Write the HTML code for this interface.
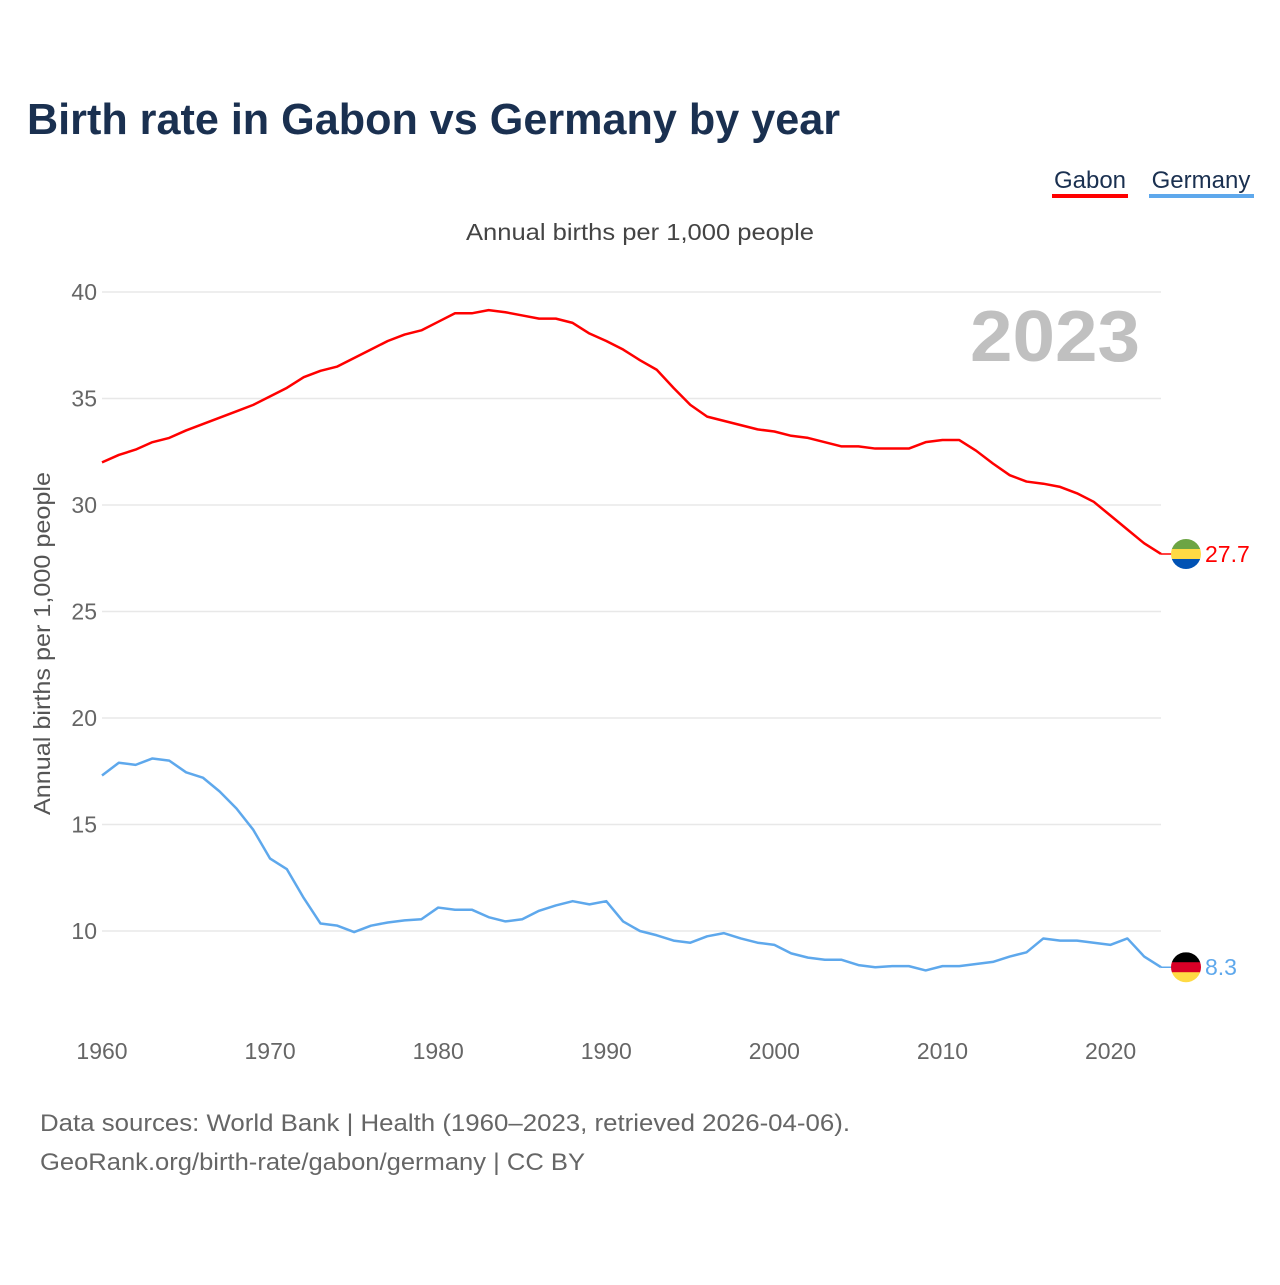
<!DOCTYPE html>
<html><head><meta charset="utf-8"><style>
body{margin:0;background:#fff;font-family:"Liberation Sans",sans-serif;}
</style></head><body>
<svg width="1280" height="1280" xmlns="http://www.w3.org/2000/svg" style="font-family:'Liberation Sans',sans-serif">
<text x="27" y="134" font-size="44" font-weight="bold" fill="#1a3050" textLength="813" lengthAdjust="spacingAndGlyphs">Birth rate in Gabon vs Germany by year</text>
<g><text x="1090" y="188" font-size="24" fill="#1a3050" text-anchor="middle">Gabon</text><rect x="1052" y="194" width="76" height="4" fill="#ff0000"/></g>
<g><text x="1201" y="188" font-size="24" fill="#1a3050" text-anchor="middle">Germany</text><rect x="1149" y="194" width="105" height="4" fill="#5ea8ec"/></g>
<text x="466" y="240" font-size="23" fill="#444" textLength="348" lengthAdjust="spacingAndGlyphs">Annual births per 1,000 people</text>
<text x="1140" y="361" font-size="72" font-weight="bold" fill="#c0c0c0" text-anchor="end" textLength="170" lengthAdjust="spacingAndGlyphs">2023</text>
<text transform="translate(50,815) rotate(-90)" font-size="23" fill="#555" textLength="343" lengthAdjust="spacingAndGlyphs">Annual births per 1,000 people</text>
<g id="grid"></g><g id="series"></g><g id="labels"></g>
<text x="40" y="1131" font-size="24" fill="#666" textLength="810" lengthAdjust="spacingAndGlyphs">Data sources: World Bank | Health (1960–2023, retrieved 2026-04-06).</text>
<text x="40" y="1170" font-size="24" fill="#666" textLength="545" lengthAdjust="spacingAndGlyphs">GeoRank.org/birth-rate/gabon/germany | CC BY</text>
</svg>
<script>
const years=[];for(let y=1960;y<=2023;y++)years.push(y);
const gabon=[32.0,32.35,32.6,32.95,33.15,33.5,33.8,34.1,34.4,34.7,35.1,35.5,36.0,36.3,36.5,36.9,37.3,37.7,38.0,38.2,38.6,39.0,39.0,39.15,39.05,38.9,38.75,38.75,38.55,38.05,37.7,37.3,36.8,36.35,35.5,34.7,34.15,33.95,33.75,33.55,33.45,33.25,33.15,32.95,32.75,32.75,32.65,32.65,32.65,32.95,33.05,33.05,32.55,31.95,31.4,31.1,31.0,30.85,30.55,30.15,29.5,28.85,28.2,27.7];
const germany=[17.3,17.9,17.8,18.1,18.0,17.45,17.2,16.55,15.75,14.75,13.4,12.9,11.55,10.35,10.25,9.95,10.25,10.4,10.5,10.55,11.1,11.0,11.0,10.65,10.45,10.55,10.95,11.2,11.4,11.25,11.4,10.45,10.0,9.8,9.55,9.45,9.75,9.9,9.65,9.45,9.35,8.95,8.75,8.65,8.65,8.4,8.3,8.35,8.35,8.15,8.35,8.35,8.45,8.55,8.8,9.0,9.65,9.55,9.55,9.45,9.35,9.65,8.8,8.3];
const yTicks=[10,15,20,25,30,35,40];
const xTicks=[1960,1970,1980,1990,2000,2010,2020];
const NS='http://www.w3.org/2000/svg';
const X=y=>102+(y-1960)*(1161-102)/63;
const Y=v=>292+(40-v)*(931-292)/30;
function mk(t,a,p){const e=document.createElementNS(NS,t);for(const k in a)e.setAttribute(k,a[k]);p.appendChild(e);return e;}
const grid=document.getElementById('grid'),ser=document.getElementById('series'),lab=document.getElementById('labels');
yTicks.forEach(v=>{
 const l=mk('line',{x1:102,x2:1161,y1:Y(v),y2:Y(v),stroke:'#e8e8e8','stroke-width':1.5},grid);
 
 
 const t=mk('text',{x:97,y:Y(v)+8,'font-size':23,fill:'#666','text-anchor':'end'},grid);t.textContent=v;
 
 
});
xTicks.forEach(v=>{
 const t=mk('text',{x:X(v),y:1059,'font-size':23,fill:'#666','text-anchor':'middle'},grid);t.textContent=v;
 
 
});
function line(d,c,name){
 const p=mk('polyline',{points:d.map((v,i)=>X(years[i])+','+Y(v)).join(' '),fill:'none',stroke:c,'stroke-width':2.5,'stroke-linejoin':'round'},ser);
 
 
 const last=d[d.length-1],ly=Y(last);
 mk('line',{x1:X(2023),x2:1186,y1:ly,y2:ly,stroke:c,'stroke-width':1.5},ser);
 return ly;
}
const gy=line(gabon,'#ff0000','gabon-line');
const dy=line(germany,'#5ea8ec','germany-line');
function flag(cx,cy,cols,name){
 const g=mk('g',{},lab);
 
 
 const id='c'+name;const cp=mk('clipPath',{id:id},g);mk('circle',{cx:cx,cy:cy,r:15},cp);
 cols.forEach((c,i)=>mk('rect',{x:cx-15,y:cy-15+i*10,width:30,height:10.5,fill:c,'clip-path':'url(#'+id+')'},g));
}
flag(1186,gy,['#6da544','#ffda44','#0052b4'],'gabon-flag');
flag(1186,dy,['#000000','#d80027','#ffda44'],'germany-flag');
let t=mk('text',{x:1205,y:gy+8,'font-size':23,fill:'#ff0000'},lab);t.textContent=gabon[gabon.length-1];


t=mk('text',{x:1205,y:dy+8,'font-size':23,fill:'#5ea8ec'},lab);t.textContent=germany[germany.length-1];


</script>
</body></html>
